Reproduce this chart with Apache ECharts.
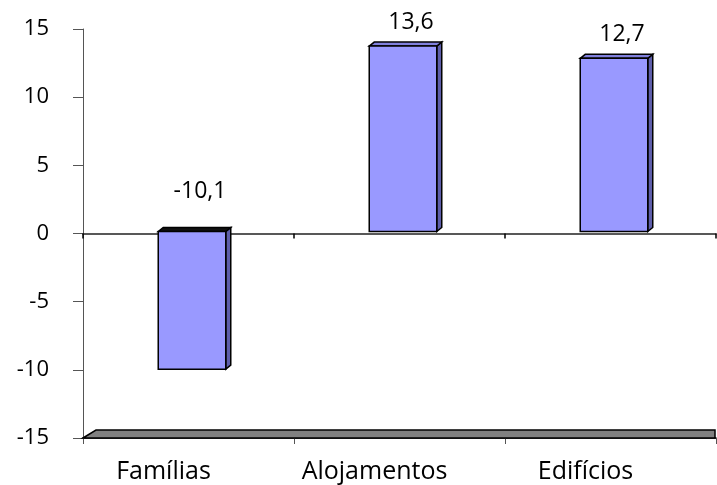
<!DOCTYPE html>
<html>
<head>
<meta charset="utf-8">
<script src="https://cdn.jsdelivr.net/npm/echarts@6/dist/echarts.min.js"></script>
<style>
html,body{margin:0;padding:0;background:#fff;}
#c{width:717px;height:485px;}
</style>
</head>
<body>
<div id="c"></div>
<script>
const categories = ['Famílias', 'Alojamentos', 'Edifícios'];
const values = [-10.1, 13.6, 12.7];
const yTicks = { min: -15, max: 15, interval: 5 };

const FONT = '"Open Sans"';
const chart = echarts.init(document.getElementById('c'), null, { renderer: 'canvas' });

function renderBar(params, api) {
  const i = api.value(0), v = api.value(1);
  const base = api.coord([i, 0]);
  const end = api.coord([i, v]);
  const bw = api.size([1, 0])[0] * 0.32;
  const cx = base[0] + 3.5;
  const lift = -2;
  const x0 = cx - bw / 2, x1 = cx + bw / 2;
  const yTop = Math.min(base[1], end[1]) + lift;
  const yBot = Math.max(base[1], end[1]) + lift;
  const dx = 5, dy = -4;
  const stroke = { stroke: '#000', lineWidth: 1.5, lineJoin: 'miter' };
  const label = String(v).replace('.', ',');
  const ly = v >= 0 ? yTop - 24 : base[1] - 42;
  return {
    type: 'group',
    children: [
      { type: 'polygon', shape: { points: [[x1, yTop], [x1 + dx, yTop + dy], [x1 + dx, yBot + dy], [x1, yBot]] },
        style: Object.assign({ fill: '#5e5eaa' }, stroke) },
      { type: 'polygon', shape: { points: [[x0, yTop], [x0 + dx, yTop + dy], [x1 + dx, yTop + dy], [x1, yTop]] },
        style: Object.assign({ fill: v >= 0 ? '#8080dd' : '#111' }, stroke) },
      { type: 'rect', shape: { x: x0, y: yTop, width: bw, height: yBot - yTop },
        style: Object.assign({ fill: '#9999ff' }, stroke) },
      { type: 'text', x: cx + 8, y: ly,
        style: { text: label, fill: '#000', font: '23px ' + FONT, textAlign: 'center', textVerticalAlign: 'middle' } }
    ]
  };
}

function renderFloor(params, api) {
  const cs = params.coordSys;
  const yb = cs.y + cs.height;
  const xl = cs.x, xr = cs.x + cs.width - 1;
  return {
    type: 'polygon',
    shape: { points: [[xl, yb], [xl + 13, yb - 8], [xr, yb - 8], [xr, yb]] },
    style: { fill: '#808080', stroke: '#000', lineWidth: 1.5 }
  };
}

chart.setOption({
  animation: false,
  backgroundColor: '#fff',
  grid: { left: 83, right: 1, top: 29, bottom: 47, containLabel: false },
  xAxis: [
    {
      type: 'category', data: categories, position: 'bottom',
      axisLine: { show: true, onZero: true, lineStyle: { color: '#222', width: 1.5 } },
      axisTick: { show: true, length: 5, lineStyle: { color: '#000', width: 1.5 } },
      axisLabel: { show: false },
      splitLine: { show: false }
    },
    {
      type: 'category', data: categories, position: 'bottom',
      axisLine: { show: true, onZero: false, lineStyle: { color: '#000', width: 1.5 } },
      axisTick: { show: true, length: 6, lineStyle: { color: '#555', width: 1 } },
      axisLabel: { show: true, color: '#000', fontSize: 25, fontFamily: FONT, margin: 21, padding: [0, 50, 0, 0] },
      splitLine: { show: false }
    }
  ],
  yAxis: {
    type: 'value', min: yTicks.min, max: yTicks.max, interval: yTicks.interval,
    axisLine: { show: true, lineStyle: { color: '#555', width: 1 } },
    axisTick: { show: true, length: 10, lineStyle: { color: '#555', width: 1 } },
    axisLabel: { color: '#000', fontSize: 22, fontFamily: FONT, margin: 34 },
    splitLine: { show: false }
  },
  series: [
    { type: 'custom', xAxisIndex: 1, renderItem: renderFloor, data: [[0, yTicks.min]], z: 1, silent: true },
    { type: 'custom', xAxisIndex: 0, renderItem: renderBar, data: values.map((v, i) => [i, v]), z: 3, silent: true }
  ]
});
</script>
</body>
</html>
